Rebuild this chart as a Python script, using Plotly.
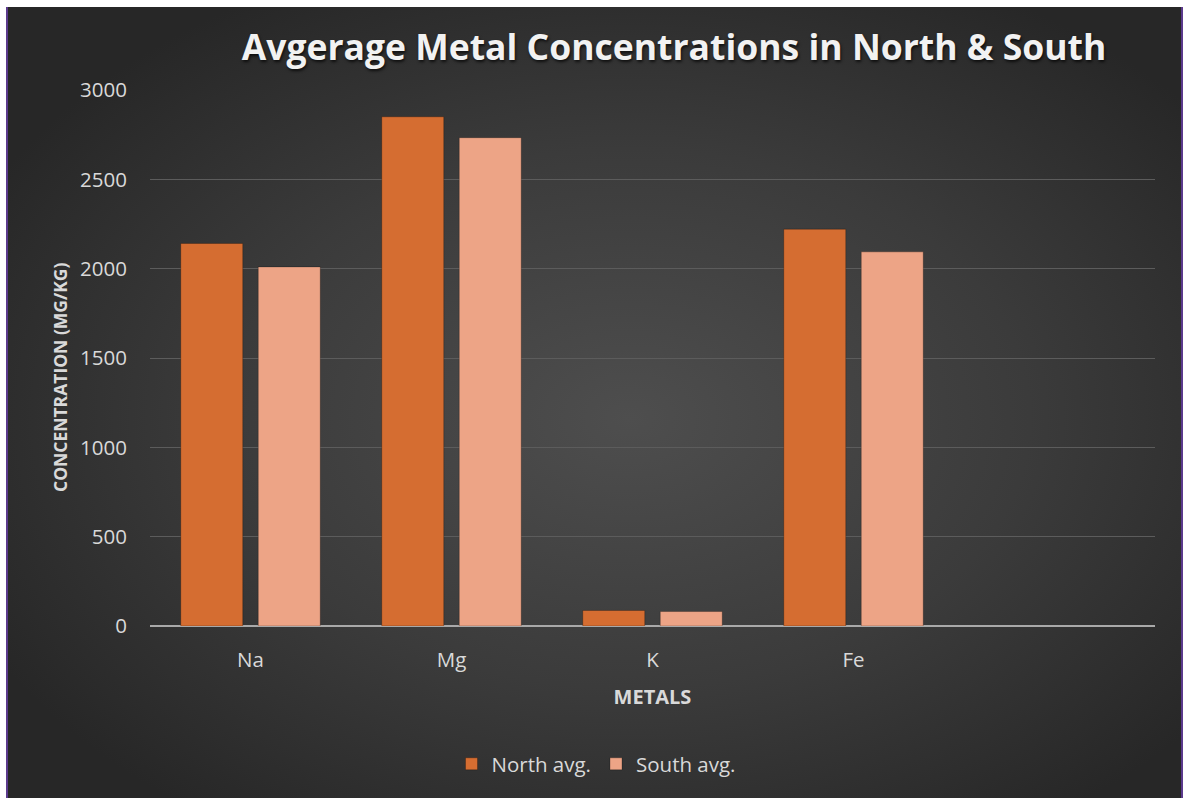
import base64
import plotly.graph_objects as go

# Average metal concentrations (mg/kg)
metals = ["Na", "Mg", "K", "Fe"]
north_avg = [2141, 2850, 87, 2221]
south_avg = [2010, 2733, 81, 2094]
y_ticks = [0, 500, 1000, 1500, 2000, 2500, 3000]

W, H = 1183, 798
L, R, T, B = 150, 28, 90, 172
PW, PH = W - L - R, H - T - B

# Dark radial-gradient card with thin purple side edges, drawn as an SVG backdrop
svg = f"""<svg xmlns='http://www.w3.org/2000/svg' width='{W}' height='{H}' viewBox='0 0 {W} {H}' preserveAspectRatio='none'>
<defs>
<radialGradient id='g' cx='0.53' cy='0.52' r='0.62'>
<stop offset='0' stop-color='#4e4e4e'/>
<stop offset='0.55' stop-color='#3b3b3b'/>
<stop offset='1' stop-color='#272727'/>
</radialGradient>
</defs>
<rect x='0' y='0' width='{W}' height='{H}' fill='#ffffff'/>
<rect x='6' y='7' width='{W - 6}' height='{H - 7}' fill='#5b3a8c'/>
<rect x='8' y='7' width='{W - 10}' height='{H - 7}' fill='url(#g)'/>
</svg>"""
bg_uri = "data:image/svg+xml;base64," + base64.b64encode(svg.encode()).decode()

x_pos = list(range(len(metals)))

fig = go.Figure()
fig.add_trace(go.Bar(
    x=x_pos, y=north_avg, name="North avg.",
    marker=dict(color="#d56d31", line=dict(color="rgba(0,0,0,0.25)", width=1)),
))
fig.add_trace(go.Bar(
    x=x_pos, y=south_avg, name="South avg.",
    marker=dict(color="#eda486", line=dict(color="rgba(0,0,0,0.25)", width=1)),
))

font_family = "Open Sans, DejaVu Sans, sans-serif"

fig.update_layout(
    width=W, height=H,
    margin=dict(l=L, r=R, t=T, b=B, pad=0),
    paper_bgcolor="#ffffff",
    plot_bgcolor="rgba(0,0,0,0)",
    barmode="group",
    bargap=0.229,
    bargroupgap=0.2,
    font=dict(family=font_family, color="#d9d9d9", size=20),
    title=dict(
        text="<b>Avgerage Metal Concentrations in North & South</b>",
        x=674 / W, xref="container", xanchor="center",
        y=1 - 48 / H, yref="container", yanchor="middle",
        font=dict(family=font_family, size=35.5, color="#f2f2f2",
                  shadow="1px 2px 3px rgba(0,0,0,0.7)"),
    ),
    xaxis=dict(
        range=[-0.5, 4.5],
        tickmode="array", tickvals=x_pos, ticktext=metals,
        showgrid=False, zeroline=False,
        showline=False, ticks="",
        ticklabelstandoff=19,
        tickfont=dict(size=20.5, color="#d9d9d9"),
        title=dict(text="<b>METALS</b>", standoff=18,
                   font=dict(size=20, color="#d9d9d9")),
        fixedrange=True,
    ),
    yaxis=dict(
        range=[0, 3000],
        tickmode="array", tickvals=y_ticks,
        showgrid=True, gridcolor="#5c5c5c", gridwidth=1,
        zeroline=True, zerolinecolor="#a9a9a9", zerolinewidth=2,
        showline=False, ticks="",
        ticklabelstandoff=22,
        tickfont=dict(size=20.5, color="#d9d9d9"),
        fixedrange=True,
    ),
    legend=dict(
        orientation="h",
        x=596 / W, xref="container", xanchor="center",
        y=(H - 764) / H, yref="container", yanchor="middle",
        font=dict(size=20.5, color="#d9d9d9"),
        bgcolor="rgba(0,0,0,0)",
        itemwidth=30,
    ),
    images=[dict(
        source=bg_uri, xref="paper", yref="paper",
        x=-L / PW, y=(PH + T) / PH, sizex=W / PW, sizey=H / PH,
        xanchor="left", yanchor="top", sizing="stretch", layer="below",
    )],
    annotations=[dict(
        text="<b>CONCENTRATION (MG/KG)</b>", textangle=-90,
        xref="paper", yref="paper",
        x=(60 - L) / PW, y=(T + PH - 377) / PH,
        xanchor="center", yanchor="middle", showarrow=False,
        font=dict(family=font_family, size=17.5, color="#d9d9d9"),
    )],
)

fig.write_html("out.html")
